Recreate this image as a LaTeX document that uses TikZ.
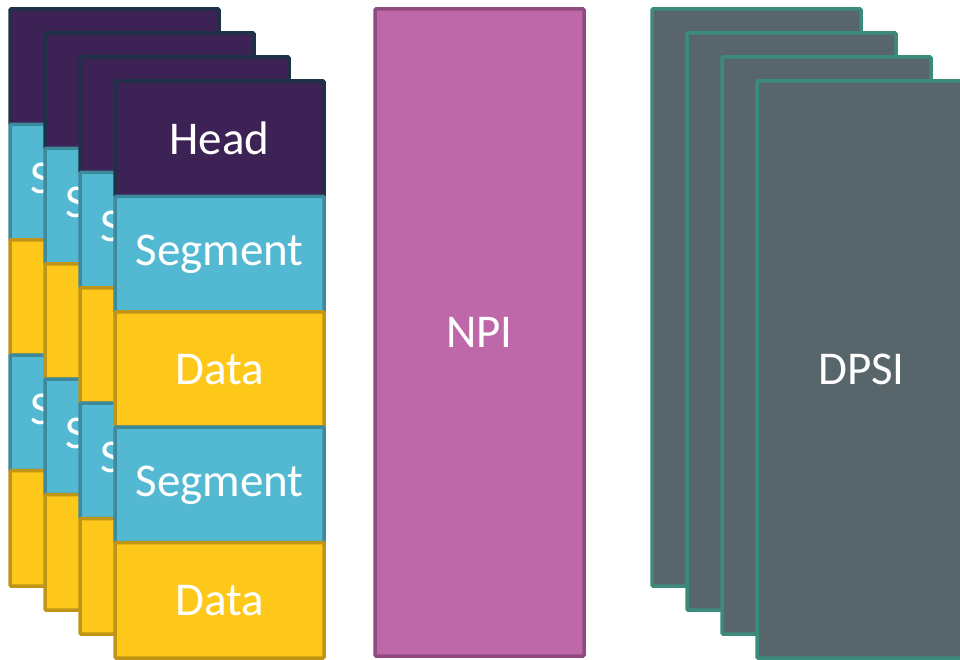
\documentclass[tikz,border=0pt]{standalone}
\usepackage{fontspec}
\setmainfont{Carlito}
\usetikzlibrary{positioning}
\definecolor{headfill}{HTML}{3D2256}
\definecolor{headline}{HTML}{1F3147}
\definecolor{segfill}{HTML}{53B9D3}
\definecolor{segline}{HTML}{3E8A9C}
\definecolor{datafill}{HTML}{FEC81B}
\definecolor{dataline}{HTML}{BF9517}
\definecolor{npifill}{HTML}{BE67A9}
\definecolor{npiline}{HTML}{8F4B7E}
\definecolor{dpsifill}{HTML}{58666B}
\definecolor{dpsiline}{HTML}{3A8B7C}
\tikzset{
    cell/.style={draw, line width=3.5pt, rounded corners=1pt, inner sep=0pt, outer sep=0pt,
        minimum width=209pt, minimum height=115.4pt, text=white,
        font=\fontsize{47}{51}\selectfont},
    headcell/.style={cell, fill=headfill, draw=headline},
    segcell/.style={cell, fill=segfill, draw=segline},
    datacell/.style={cell, fill=datafill, draw=dataline},
    npibox/.style={cell, fill=npifill, draw=npiline, minimum height=647pt},
    dpsibox/.style={cell, fill=dpsifill, draw=dpsiline, minimum height=577pt}
}

\begin{document}
\begin{tikzpicture}[x=1pt, y=-1pt]
    \useasboundingbox (0,0) rectangle (960,660);

    % Draw packet stack.
    \foreach \i in {0,...,3} {
        \node[headcell, anchor=north west] (head\i) at ({10+35*\i},{9+24*\i}) {Head};
        \node[segcell, below=0pt of head\i] (segA\i) {Segment};
        \node[datacell, below=0pt of segA\i] (dataA\i) {Data};
        \node[segcell, below=0pt of dataA\i] (segB\i) {Segment};
        \node[datacell, below=0pt of segB\i] (dataB\i) {Data};
    }

    % Draw NPI block.
    \node[npibox, anchor=north west] (npi) at (375,9) {NPI};

    % Draw DPSI stack.
    \foreach \j in {0,...,2}
        \node[dpsibox, anchor=north west] (dpsi\j) at ({652+35*\j},{9+24*\j}) {};
    \node[dpsibox, anchor=north west] (dpsi3) at (757,81) {DPSI};
\end{tikzpicture}
\end{document}
